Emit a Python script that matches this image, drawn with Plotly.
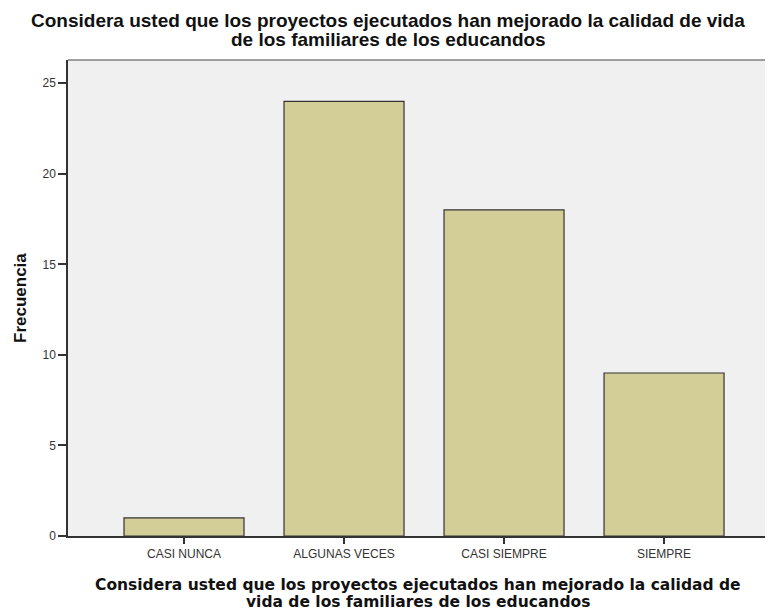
import plotly.graph_objects as go

categories = ["CASI NUNCA", "ALGUNAS VECES", "CASI SIEMPRE", "SIEMPRE"]
frecuencia = [1, 24, 18, 9]
y_ticks = [0, 5, 10, 15, 20, 25]

title_lines = ["Considera usted que los proyectos ejecutados han mejorado la calidad de vida",
               "de los familiares de los educandos"]
xtitle_lines = ["Considera usted que los proyectos ejecutados han mejorado la calidad de",
                "vida de los familiares de los educandos"]
ytitle = "Frecuencia"

# page body has an 8px margin -> figure is 765x602 so it fits the 773x610 window
W, H = 765, 602
L, T, R, B = 60, 52, 0, 74

fig = go.Figure()
fig.add_trace(go.Bar(
    x=categories, y=frecuencia, width=0.75,
    marker=dict(color="#D3CE97", line=dict(color="#333333", width=1.2)),
))

fig.update_layout(
    width=W, height=H,
    margin=dict(l=L, r=R, t=T, b=B, autoexpand=False),
    paper_bgcolor="white", plot_bgcolor="#F0F0F0",
    showlegend=False,
    font=dict(family="Liberation Sans, Arial, sans-serif", color="#222"),
)
fig.update_xaxes(
    type="category", range=[-0.725, 3.681],
    showline=True, linecolor="#333", linewidth=1.5,
    ticks="outside", ticklen=6, tickcolor="#333", tickwidth=1.5,
    tickfont=dict(size=12, color="#333"),
    showgrid=False, zeroline=False, automargin=False,
)
fig.update_yaxes(
    range=[0, 26.28], tickvals=y_ticks,
    showline=True, linecolor="#333", linewidth=1.5,
    ticks="outside", ticklen=8, tickcolor="#333", tickwidth=1.5,
    tickfont=dict(size=12, color="#333"),
    showgrid=False, zeroline=False, automargin=False,
)
# top frame line
fig.add_shape(type="line", xref="paper", yref="paper", x0=0, x1=1, y0=1, y1=1,
              line=dict(color="#808080", width=1.5))

title_font = dict(size=19, family="Liberation Sans, Arial", color="#111", weight="bold")
for line, ys in zip(title_lines, [40, 21]):
    fig.add_annotation(text=line, xref="paper", yref="paper", x=0, xshift=320,
                       y=1, yshift=ys, xanchor="center", yanchor="middle",
                       showarrow=False, font=title_font)

xt_font = dict(size=15.5, family="DejaVu Sans, Verdana", color="#111", weight="bold")
for line, ys in zip(xtitle_lines, [-49, -66]):
    fig.add_annotation(text=line, xref="paper", yref="paper", x=0, xshift=350,
                       y=0, yshift=ys, xanchor="center", yanchor="middle",
                       showarrow=False, font=xt_font)

fig.add_annotation(text=ytitle, xref="paper", yref="paper",
                   x=0, xshift=-48, y=0.5, xanchor="center", yanchor="middle", textangle=-90,
                   showarrow=False,
                   font=dict(size=17, family="Liberation Sans, Arial", color="#111", weight="bold"))

fig.write_html("out.html")
